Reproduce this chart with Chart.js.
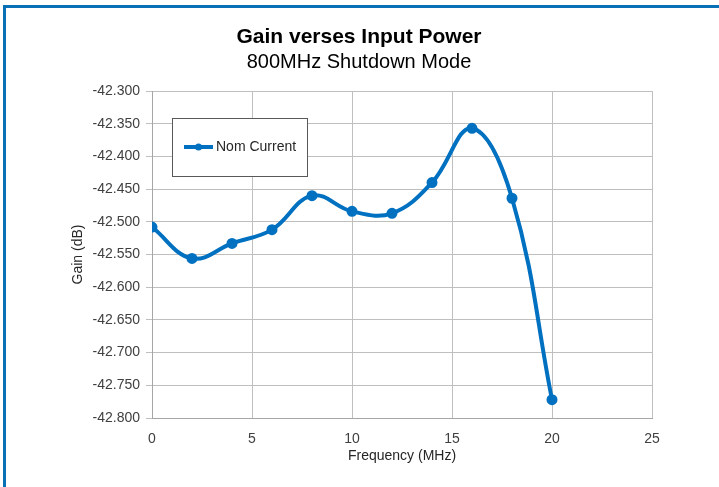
<!DOCTYPE html>
<html>
<head>
<meta charset="utf-8">
<script src="https://cdn.jsdelivr.net/npm/chart.js@4.4.1/dist/chart.umd.min.js"></script>
<style>
  html, body { margin: 0; padding: 0; background: #fff; overflow: hidden; }
  #wrap { position: relative; width: 719px; height: 487px; }
  #frame {
    position: absolute; left: 3px; top: 5px; right: -10px; bottom: -10px;
    border-top: 3px solid #0a70b6; border-left: 3px solid #0a70b6;
    pointer-events: none;
  }
</style>
</head>
<body>
<div id="wrap">
  <canvas id="grafico" width="719" height="487"></canvas>
  <div id="frame"></div>
</div>
<script>
// dados
const frequencias = [0, 2, 4, 6, 8, 10, 12, 14, 16, 18, 20];
const ganhoNomCurrent = [-42.508, -42.556, -42.533, -42.512, -42.460, -42.484, -42.487, -42.440, -42.357, -42.464, -42.772];
const ticksX = [0, 5, 10, 15, 20, 25];
const ticksY = [-42.300, -42.350, -42.400, -42.450, -42.500, -42.550, -42.600, -42.650, -42.700, -42.750, -42.800];

const corLinha = '#0070c0';
const fonte = "'Liberation Sans', Arial, sans-serif";

// legenda desenhada dentro da área do gráfico (como no Excel)
const legendaInterna = {
  id: 'legendaInterna',
  afterDraw(chart) {
    const ctx = chart.ctx;
    const ds = chart.data.datasets[0];
    const x = chart.chartArea.left + 20, y = chart.chartArea.top + 27;
    const w = 135, h = 58;
    ctx.save();
    ctx.fillStyle = '#fff';
    ctx.fillRect(x, y, w, h);
    ctx.strokeStyle = '#595959';
    ctx.lineWidth = 1;
    ctx.strokeRect(x + 0.5, y + 0.5, w, h);
    const cy = y + h / 2;
    ctx.strokeStyle = ds.borderColor;
    ctx.lineWidth = 4;
    ctx.beginPath();
    ctx.moveTo(x + 12, cy);
    ctx.lineTo(x + 41, cy);
    ctx.stroke();
    ctx.fillStyle = ds.borderColor;
    ctx.beginPath();
    ctx.arc(x + 26.5, cy, 3.5, 0, Math.PI * 2);
    ctx.fill();
    ctx.fillStyle = '#262626';
    ctx.font = '14px ' + fonte;
    ctx.textBaseline = 'middle';
    ctx.fillText(ds.label, x + 44, cy);
    ctx.restore();
  }
};

const ctx = document.getElementById('grafico').getContext('2d');
new Chart(ctx, {
  type: 'line',
  data: {
    datasets: [{
      label: 'Nom Current',
      data: frequencias.map((f, i) => ({ x: f, y: ganhoNomCurrent[i] })),
      borderColor: corLinha,
      backgroundColor: corLinha,
      borderWidth: 4,
      pointRadius: 3.5,
      pointHoverRadius: 3.5,
      tension: 0.4,
      fill: false
    }]
  },
  options: {
    responsive: false,
    animation: false,
    layout: { padding: { left: 66, right: 67, top: 0, bottom: 17 } },
    plugins: {
      legend: { display: false },
      tooltip: { enabled: false },
      title: {
        display: true,
        text: 'Gain verses Input Power',
        color: '#000',
        font: { family: fonte, size: 21, weight: 'bold', lineHeight: 1 },
        padding: { top: 27, bottom: 0 }
      },
      subtitle: {
        display: true,
        text: '800MHz Shutdown Mode',
        color: '#000',
        font: { family: fonte, size: 20, lineHeight: 1 },
        padding: { top: 4.5, bottom: 18.5 }
      }
    },
    scales: {
      x: {
        type: 'linear',
        min: 0,
        max: 25,
        afterBuildTicks: s => { s.ticks = ticksX.map(v => ({ value: v })); },
        afterFit: s => { s.height = 52; },
        grid: { color: '#bfbfbf', tickLength: 0 },
        border: { color: '#a6a6a6', width: 1 },
        ticks: { color: '#404040', font: { family: fonte, size: 14 }, padding: 13 },
        title: {
          display: true,
          text: 'Frequency (MHz)',
          color: '#262626',
          font: { family: fonte, size: 14 },
          padding: { top: 4, bottom: 5 }
        }
      },
      y: {
        min: -42.8,
        max: -42.3,
        afterBuildTicks: s => { s.ticks = ticksY.map(v => ({ value: v })); },
        afterFit: s => { s.width = 86; },
        grid: { color: '#bfbfbf', tickLength: 6 },
        border: { color: '#a6a6a6', width: 1 },
        ticks: {
          color: '#404040',
          font: { family: fonte, size: 14 },
          padding: 6,
          callback: v => Number(v).toFixed(3)
        },
        title: {
          display: true,
          text: 'Gain (dB)',
          color: '#262626',
          font: { family: fonte, size: 14 },
          padding: { top: 4, bottom: 4 }
        }
      }
    }
  },
  plugins: [legendaInterna]
});
</script>
</body>
</html>
